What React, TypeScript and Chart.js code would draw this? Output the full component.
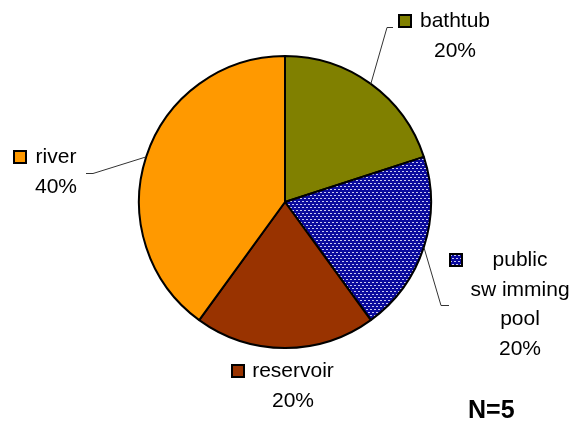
import React, { useEffect, useRef } from "react";
import { Chart, registerables } from "chart.js";

Chart.register(...registerables);

// ---- data ----
const categories = ["bathtub", "public swimming pool", "reservoir", "river"];
const labelLines = [["bathtub"], ["public", "sw imming", "pool"], ["reservoir"], ["river"]];
const values = [1, 1, 1, 2];
const sampleSizeText = "N=5";
const solidColors = ["#808000", "", "#993300", "#FF9900"];

const FONT = '"Liberation Sans", Arial, sans-serif';

function makePattern(ctx: CanvasRenderingContext2D): CanvasPattern | string {
  const pc = document.createElement("canvas");
  pc.width = 4;
  pc.height = 6;
  const p = pc.getContext("2d");
  if (!p) return "#000099";
  p.fillStyle = "#0a0a9c";
  p.fillRect(0, 0, 4, 6);
  p.fillStyle = "#c8c8f0";
  p.fillRect(0, 0, 2, 1);
  p.fillRect(2, 3, 2, 1);
  return ctx.createPattern(pc, "repeat") || "#000099";
}

// label block layout: centre x of text, first baseline, leader anchor points
const labelLayout = [
  { cx: 455, base: 27, leader: [[393, 27], [387, 27]] },
  { cx: 520, base: 266, leader: [[449, 305], [441, 305]] },
  { cx: 293, base: 377, leader: null },
  { cx: 56, base: 163, leader: [[86, 173], [93, 173]] },
];

export default function App() {
  const ref = useRef<HTMLCanvasElement | null>(null);

  useEffect(() => {
    const canvas = ref.current;
    if (!canvas) return;
    const ctx = canvas.getContext("2d");
    if (!ctx) return;
    const pattern = makePattern(ctx);
    const fills = solidColors.map((c) => (c ? c : pattern));
    const total = values.reduce((a, b) => a + b, 0);

    const labelPlugin = {
      id: "pieLabels",
      afterDraw(chart: any) {
        const c: CanvasRenderingContext2D = chart.ctx;
        const meta = chart.getDatasetMeta(0);
        c.save();
        meta.data.forEach((arc: any, i: number) => {
          const lay = labelLayout[i];
          const mid = (arc.startAngle + arc.endAngle) / 2;
          const ex = arc.x + arc.outerRadius * Math.cos(mid);
          const ey = arc.y + arc.outerRadius * Math.sin(mid);
          // leader line
          if (lay.leader) {
            c.strokeStyle = "#333333";
            c.lineWidth = 1;
            c.beginPath();
            c.moveTo(lay.leader[0][0], lay.leader[0][1] + 0.5);
            c.lineTo(lay.leader[1][0], lay.leader[1][1] + 0.5);
            c.lineTo(ex, ey);
            c.stroke();
          }
          const pct = Math.round((values[i] / total) * 100) + "%";
          const lines = [...labelLines[i], pct];
          c.font = "21px " + FONT;
          c.fillStyle = "#000";
          c.textAlign = "center";
          c.textBaseline = "alphabetic";
          let maxW = 0;
          lines.forEach((l) => {
            maxW = Math.max(maxW, c.measureText(l).width);
          });
          lines.forEach((l, k) => {
            c.fillText(l, lay.cx, lay.base + k * 29.5);
          });
          // legend key
          const kx = Math.round(lay.cx - maxW / 2 - 8.5 - 12);
          const ky = lay.base - 12;
          c.fillStyle = fills[i] as any;
          c.fillRect(kx, ky, 12, 12);
          c.strokeStyle = "#000";
          c.lineWidth = 2;
          c.strokeRect(kx, ky, 12, 12);
        });
        // N=5
        c.font = "bold 25px " + FONT;
        c.fillStyle = "#000";
        c.textAlign = "left";
        c.fillText(sampleSizeText, 468, 418);
        c.restore();
      },
    };

    const chart = new Chart(canvas, {
      type: "pie",
      data: {
        labels: categories,
        datasets: [
          {
            data: values,
            backgroundColor: fills as any,
            borderColor: "#000000",
            borderWidth: 2,
          },
        ],
      },
      options: {
        animation: false,
        responsive: false,
        maintainAspectRatio: false,
        radius: 146,
        layout: { padding: { left: 0, right: 4, top: 0, bottom: 17 } },
        plugins: {
          legend: { display: false },
          tooltip: { enabled: false },
          title: { display: false },
        },
      } as any,
      plugins: [labelPlugin],
    });
    return () => chart.destroy();
  }, []);

  return (
    <div
      style={{
        position: "fixed",
        left: 0,
        top: 0,
        width: 574,
        height: 421,
        background: "#ffffff",
      }}
    >
      <canvas ref={ref} width={574} height={421} style={{ display: "block" }} />
    </div>
  );
}
